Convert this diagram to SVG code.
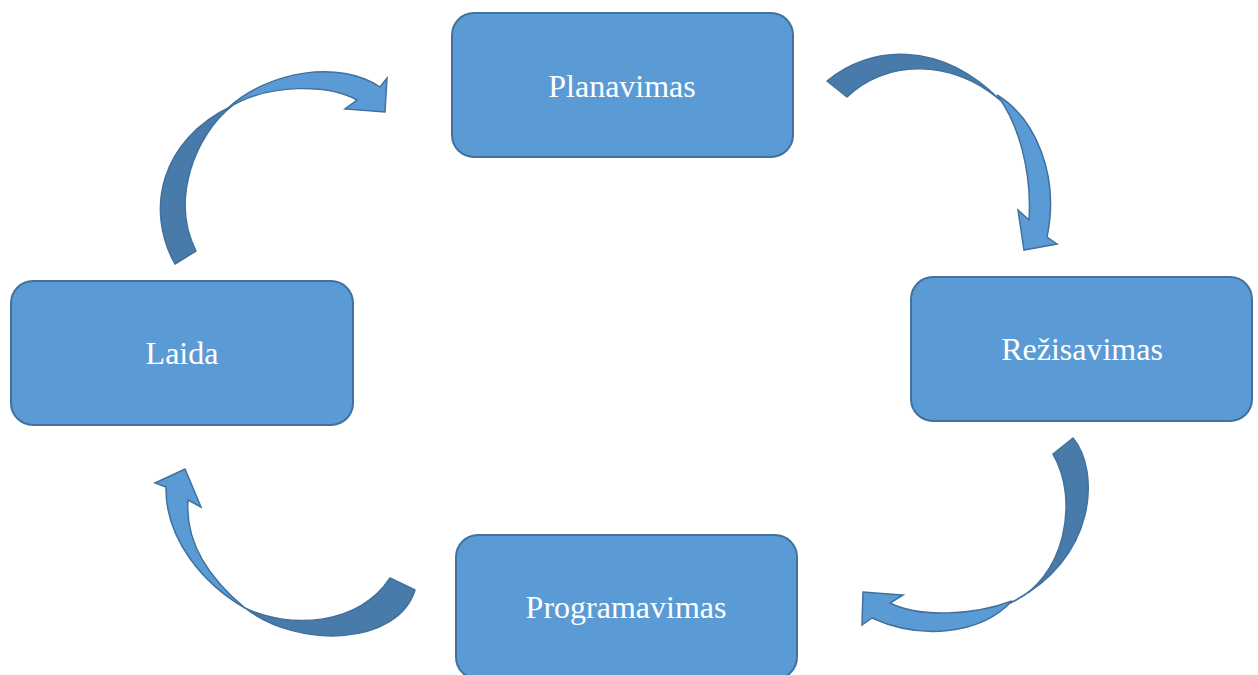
<svg xmlns="http://www.w3.org/2000/svg" width="1258" height="675" viewBox="0 0 1258 675">
  <style>
    .box { fill: #5B9BD5; stroke: #41719C; stroke-width: 2; }
    .lbl { fill: #FFFFFF; font-family: "Liberation Serif", "Times New Roman", serif; font-size: 32px; text-anchor: middle; }
    .back { fill: #487BAA; stroke: #41719C; stroke-width: 1.5; stroke-linejoin: round; }
    .front { fill: #5B9BD5; stroke: #41719C; stroke-width: 1.5; stroke-linejoin: miter; }
  </style>
  <rect width="1258" height="675" fill="#FFFFFF"/>
  <g id="connectors">
    <g id="arrow-planavimas-rezisavimas">
      <path class="back" d="M 827,81 C 870,45 940,40 1000,100 C 950,58 885,60 847,97 Z"/>
      <path class="front" d="M 997,95 C 1035,118 1060,175 1047,237 L 1057,244 L 1024,250 L 1018,210 L 1029,220 C 1032,175 1020,125 997,95 Z"/>
    </g>
    <g id="arrow-rezisavimas-programavimas">
      <path class="back" d="M 1073,438 C 1100,470 1098,560 1010,603 C 1065,580 1080,500 1053,454 Z"/>
      <path class="front" d="M 1012,601 C 980,635 920,640 872,618 L 862,625 L 863,592 L 903,595 L 890,603 C 920,618 975,615 1012,601 Z"/>
    </g>
    <g id="arrow-programavimas-laida">
      <path class="back" d="M 415,590 C 398,645 300,650 245,608 C 290,630 360,625 390,578 Z"/>
      <path class="front" d="M 245,608 C 205,585 165,540 166,487 L 155,483 L 185,469 L 201,507 L 188,500 C 185,540 205,575 245,608 Z"/>
    </g>
    <g id="arrow-laida-planavimas">
      <path class="back" d="M 175,264 C 145,210 160,140 232,106 C 195,135 170,200 196,251 Z"/>
      <path class="front" d="M 228,108 C 270,70 340,60 380,87 L 387,78 L 385,112 L 345,109 L 357,100 C 330,85 270,82 228,108 Z"/>
    </g>
  </g>
  <g id="node-planavimas">
    <rect class="box" x="452" y="13" width="341" height="144" rx="22"/>
    <text class="lbl" x="622" y="97">Planavimas</text>
  </g>
  <g id="node-rezisavimas">
    <rect class="box" x="911" y="277" width="341" height="144" rx="22"/>
    <text class="lbl" x="1082" y="360">Režisavimas</text>
  </g>
  <g id="node-programavimas">
    <rect class="box" x="456" y="535" width="341" height="144" rx="22"/>
    <text class="lbl" x="626" y="618">Programavimas</text>
  </g>
  <g id="node-laida">
    <rect class="box" x="11" y="281" width="342" height="144" rx="22"/>
    <text class="lbl" x="182" y="364">Laida</text>
  </g>
</svg>
